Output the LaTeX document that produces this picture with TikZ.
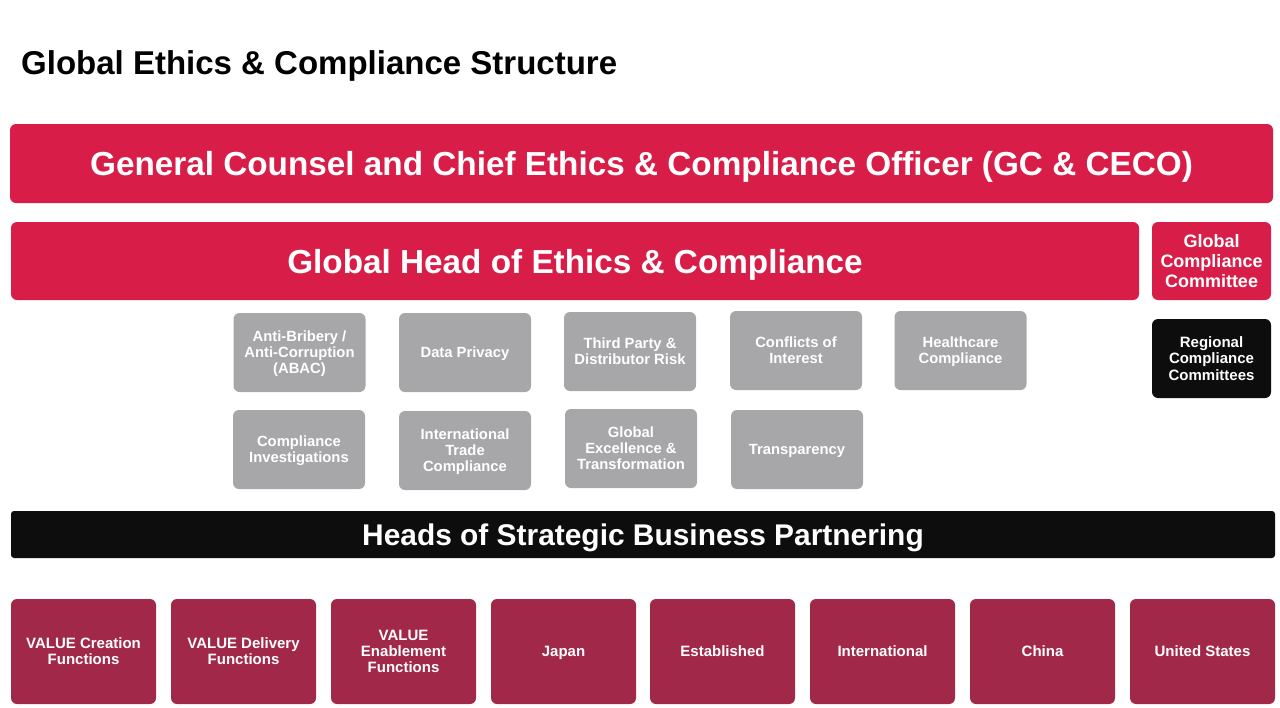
\documentclass[tikz,border=0pt]{standalone}
\usepackage{fontspec}
\setmainfont{Liberation Sans}
\definecolor{crim}{HTML}{D81E48}
\definecolor{maroon}{HTML}{A2284A}
\definecolor{grayb}{HTML}{A7A7A9}
\definecolor{blk}{HTML}{0D0D0D}
\tikzset{
  box/.style={rounded corners=6pt, text=white, align=center, inner sep=0pt, text depth=0pt, font=\bfseries},
  redbox/.style={box, fill=crim},
  graybox/.style={box, fill=grayb, minimum width=132pt, minimum height=79pt, font=\bfseries\fontsize{14.8}{16}\selectfont},
  botbox/.style={box, fill=maroon, minimum width=145pt, minimum height=105pt, font=\bfseries\fontsize{15}{16}\selectfont},
}
\begin{document}
\begin{tikzpicture}[x=1pt,y=-1pt]
\useasboundingbox (0,0) rectangle (1280,707);
\node[anchor=west, font=\bfseries\fontsize{33}{38}\selectfont, inner sep=0pt, text depth=0pt] (title) at (21,63) {Global Ethics \& Compliance Structure};
\node[redbox, minimum width=1263pt, minimum height=79pt, font=\bfseries\fontsize{33.3}{38}\selectfont] (gc) at (641.5,163.5) {General Counsel and Chief Ethics \& Compliance Officer (GC \& CECO)};
\node[redbox, minimum width=1128pt, minimum height=78pt, font=\bfseries\fontsize{33.3}{38}\selectfont] (gh) at (575,261) {Global Head of Ethics \& Compliance};
\node[redbox, minimum width=119pt, minimum height=78pt, font=\bfseries\fontsize{18}{20}\selectfont] (gcc) at (1211.5,261) {Global\\Compliance\\Committee};
\node[box, fill=blk, minimum width=119pt, minimum height=79pt, font=\bfseries\fontsize{15}{16.5}\selectfont] (rcc) at (1211.5,358.5) {Regional\\Compliance\\Committees};
% gray row 1
\node[graybox] (abac) at (299.5,352.5) {Anti-Bribery /\\Anti-Corruption\\(ABAC)};
\node[graybox] (dp) at (465,352.5) {Data Privacy};
\node[graybox] (tp) at (630,351.5) {Third Party \&\\Distributor Risk};
\node[graybox] (coi) at (796,350.5) {Conflicts of\\Interest};
\node[graybox] (hc) at (960.5,350.5) {Healthcare\\Compliance};
% gray row 2
\node[graybox] (ci) at (299,449.5) {Compliance\\Investigations};
\node[graybox] (itc) at (465,450.5) {International\\Trade\\Compliance};
\node[graybox] (gex) at (631,448.5) {Global\\Excellence \&\\Transformation};
\node[graybox] (tr) at (797,449.5) {Transparency};
% heads bar
\node[box, fill=blk, rounded corners=3pt, minimum width=1264pt, minimum height=47pt, font=\bfseries\fontsize{29.9}{34}\selectfont] (hsbp) at (643,534.5) {Heads of Strategic Business Partnering};
% bottom row
\node[botbox] (b1) at (83.5,651.5) {VALUE Creation\\Functions};
\node[botbox] (b2) at (243.5,651.5) {VALUE Delivery\\Functions};
\node[botbox] (b3) at (403.5,651.5) {VALUE\\Enablement\\Functions};
\node[botbox] (b4) at (563.5,651.5) {Japan};
\node[botbox] (b5) at (722.5,651.5) {Established};
\node[botbox] (b6) at (882.5,651.5) {International};
\node[botbox] (b7) at (1042.5,651.5) {China};
\node[botbox] (b8) at (1202.5,651.5) {United States};
\end{tikzpicture}
\end{document}
